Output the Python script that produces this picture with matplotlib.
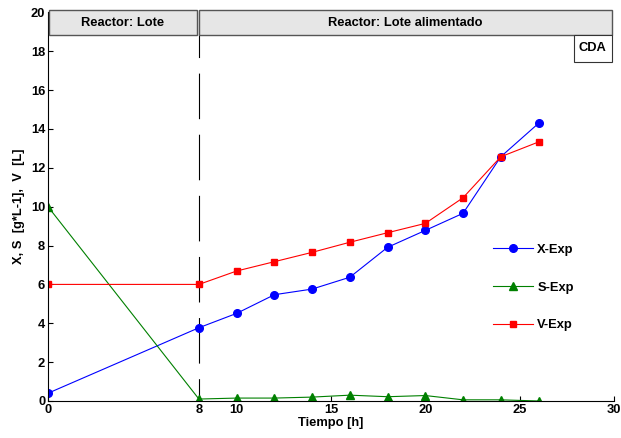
import matplotlib.pyplot as plt
from matplotlib.patches import Rectangle

# Experimental data
tiempo = [0, 8, 10, 12, 14, 16, 18, 20, 22, 24, 26]
x_exp = [0.4, 3.77, 4.51, 5.47, 5.76, 6.37, 7.91, 8.78, 9.66, 12.57, 14.29]
s_exp = [10.0, 0.10, 0.15, 0.15, 0.20, 0.30, 0.22, 0.28, 0.06, 0.06, 0.0]
v_exp = [6.0, 6.0, 6.69, 7.17, 7.65, 8.17, 8.66, 9.14, 10.46, 12.57, 13.33]

x_ticks = [0, 8, 10, 15, 20, 25, 30]
y_ticks = [0, 2, 4, 6, 8, 10, 12, 14, 16, 18, 20]
t_cambio = 8

FS = 9.3


def main():
    plt.rcParams['font.family'] = ['Liberation Sans', 'DejaVu Sans']
    plt.rcParams['font.weight'] = 'bold'

    fig = plt.figure(figsize=(6.21, 4.38), dpi=100)
    ax = fig.add_axes([0.0773, 0.0845, 0.9114, 0.8872])

    ax.plot(tiempo, x_exp, color='blue', marker='o', markersize=5.5, lw=0.8, label='X-Exp')
    ax.plot(tiempo, s_exp, color=(0, 0.5, 0), marker='^', markersize=5.5, lw=0.8, label='S-Exp')
    ax.plot(tiempo, v_exp, color='red', marker='s', markersize=5, lw=0.8, label='V-Exp')

    # Separation between batch and fed-batch (drawn top to bottom)
    ax.plot([t_cambio, t_cambio], [20, 0], color='black', lw=0.8, dashes=(41, 14),
            zorder=1, clip_on=False)

    ax.set_xlim(0, 30)
    ax.set_ylim(0, 20)
    ax.set_xticks(x_ticks)
    ax.set_yticks(y_ticks)
    ax.tick_params(direction='in', length=3.5, width=0.8, labelsize=FS, pad=2)
    for lab in ax.get_xticklabels() + ax.get_yticklabels():
        lab.set_fontweight('bold')
    ax.spines['top'].set_visible(False)
    ax.spines['right'].set_visible(False)

    ax.set_xlabel('Tiempo [h]', fontsize=FS, fontweight='bold', labelpad=1)
    ax.set_ylabel('X, S  [g*L-1],  V  [L]', fontsize=FS, fontweight='bold', labelpad=4)

    # Header boxes
    ax.add_patch(Rectangle((0.05, 18.84), 7.83, 1.26, facecolor='#e6e6e6',
                           edgecolor='#555555', lw=1, clip_on=False, zorder=5))
    ax.add_patch(Rectangle((8.02, 18.84), 21.88, 1.26, facecolor='#e6e6e6',
                           edgecolor='#555555', lw=1, clip_on=False, zorder=5))
    ax.text(3.95, 19.47, 'Reactor: Lote', ha='center', va='center', fontsize=FS,
            fontweight='bold', zorder=6)
    ax.text(18.96, 19.47, 'Reactor: Lote alimentado', ha='center', va='center',
            fontsize=FS, fontweight='bold', zorder=6)

    ax.add_patch(Rectangle((27.87, 17.46), 2.03, 1.38, facecolor='white',
                           edgecolor='#333333', lw=0.8, clip_on=False, zorder=5))
    ax.text(28.88, 18.15, 'CDA', ha='center', va='center', fontsize=FS,
            fontweight='bold', zorder=6)

    ax.legend(loc='center left', bbox_to_anchor=(0.765, 0.292), frameon=False,
              handlelength=3.1, labelspacing=2.0, handletextpad=0.35,
              prop={'weight': 'bold', 'size': FS})

    plt.savefig('out.png', dpi=100)


if __name__ == '__main__':
    main()
